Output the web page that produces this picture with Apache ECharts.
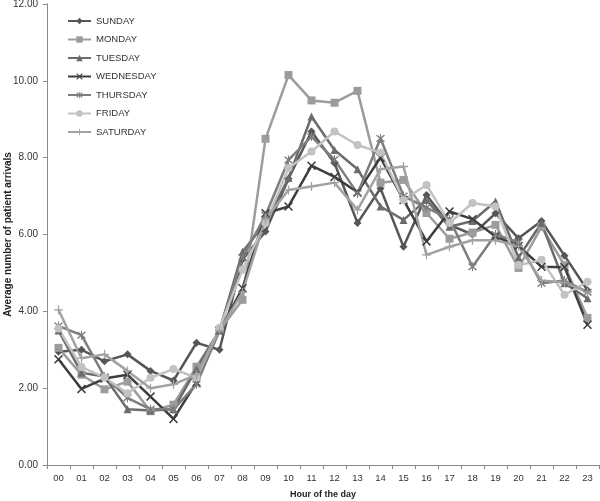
<!DOCTYPE html>
<html><head><meta charset="utf-8">
<script src="https://cdn.jsdelivr.net/npm/echarts@6/dist/echarts.min.js"></script>
<style>html,body{margin:0;padding:0;background:#fff}#c{width:600px;height:501px}</style>
</head><body><div id="c"></div>
<script>
const hours = ['00','01','02','03','04','05','06','07','08','09','10','11','12','13','14','15','16','17','18','19','20','21','22','23'];
const sunday    = [2.95,3.00,2.70,2.88,2.45,2.20,3.18,3.00,5.35,6.08,7.45,8.68,7.86,6.30,7.20,5.68,7.03,6.25,6.00,6.55,5.90,6.35,5.45,4.55];
const monday    = [3.05,2.35,1.97,2.17,1.40,1.57,2.56,3.50,4.30,8.49,10.15,9.49,9.43,9.74,7.35,7.42,6.56,5.89,6.05,6.25,5.13,6.20,5.20,3.83];
const tuesday   = [3.50,2.40,2.30,1.45,1.42,1.45,2.50,3.50,5.55,6.30,7.47,9.07,8.20,7.70,6.73,6.38,6.90,6.20,6.35,6.86,5.40,6.30,4.73,4.34];
const wednesday = [2.75,1.98,2.25,2.35,1.78,1.20,2.15,3.50,4.60,6.55,6.73,7.79,7.50,7.10,8.00,6.90,5.82,6.60,6.40,5.95,5.70,5.16,5.15,3.65];
const thursday  = [3.62,3.38,2.30,1.75,1.45,1.45,2.10,3.50,5.40,6.50,7.94,8.55,7.95,7.07,8.50,7.00,6.70,6.40,5.16,6.00,5.80,4.73,4.80,4.50];
const friday    = [3.55,2.55,2.28,1.87,2.27,2.50,2.27,3.57,5.08,6.30,7.73,8.16,8.68,8.33,8.13,6.90,7.29,6.30,6.82,6.73,5.20,5.34,4.43,4.77];
const saturday  = [4.04,2.78,2.88,2.45,2.00,2.10,2.35,3.50,4.50,6.40,7.16,7.25,7.35,6.64,7.70,7.77,5.47,5.68,5.85,5.85,5.70,4.80,4.75,4.50];
const yTicks = [0,2,4,6,8,10,12];

const X = 'path://M0,1.2 L1.2,0 L5,3.8 L8.8,0 L10,1.2 L6.2,5 L10,8.8 L8.8,10 L5,6.2 L1.2,10 L0,8.8 L3.8,5 Z';
const PLUS = 'path://M4.3,0 H5.7 V4.3 H10 V5.7 H5.7 V10 H4.3 V5.7 H0 V4.3 H4.3 Z';
const AST = 'path://M0,1.2 L1.2,0 L5,3.8 L8.8,0 L10,1.2 L6.2,5 L10,8.8 L8.8,10 L5,6.2 L1.2,10 L0,8.8 L3.8,5 Z M4.4,-1 H5.6 V11 H4.4 Z';

function mk(name, data, color, symbol, size){
  return {name, type:'line', data, symbol, symbolSize:size, showSymbol:true,
    lineStyle:{color, width:2.5}, itemStyle:{color, borderWidth:0}, emphasis:{disabled:true}, animation:false, z:2};
}
const series = [
  mk('SUNDAY', sunday, '#565656', 'diamond', 8),
  mk('MONDAY', monday, '#9c9c9c', 'rect', 8),
  mk('TUESDAY', tuesday, '#6c6c6c', 'triangle', 8),
  mk('WEDNESDAY', wednesday, '#3e3e3e', X, 9),
  mk('THURSDAY', thursday, '#7e7e7e', AST, 9),
  mk('FRIDAY', friday, '#c2c2c2', 'circle', 8),
  mk('SATURDAY', saturday, '#a2a2a2', PLUS, 9)
];
const chart = echarts.init(document.getElementById('c'), null, {renderer:'canvas'});
chart.setOption({
  animation:false,
  backgroundColor:'#fff',
  grid:{left:47, right:1, top:4, bottom:36, containLabel:false, outerBoundsMode:'none'},
  legend:{orient:'vertical', left:62, top:11, itemWidth:23, itemHeight:8, itemGap:8.5,
    textStyle:{fontFamily:'Liberation Sans, Arial', fontSize:9.5, color:'#333'},
    data:series.map(s=>s.name)},
  xAxis:{type:'category', data:hours, boundaryGap:true,
    name:'Hour of the day', nameLocation:'middle', nameGap:25, nameMoveOverlap:false,
    nameTextStyle:{fontFamily:'Liberation Sans, Arial', fontSize:9, fontWeight:'bold', color:'#222'},
    axisLine:{lineStyle:{color:'#8a8a8a', width:1}},
    axisTick:{show:true, alignWithLabel:false, length:4, lineStyle:{color:'#8a8a8a'}},
    axisLabel:{fontFamily:'Liberation Sans, Arial', fontSize:9.5, color:'#333', margin:8, interval:0},
    splitLine:{show:false}},
  yAxis:{type:'value', min:0, max:12, interval:2,
    name:'Average number of patient arrivals', nameLocation:'middle', nameGap:34, nameRotate:90, nameMoveOverlap:false,
    nameTextStyle:{fontFamily:'Liberation Sans, Arial', fontSize:10, fontWeight:'bold', color:'#222'},
    axisLine:{show:true, lineStyle:{color:'#8a8a8a', width:1}},
    axisTick:{show:true, length:4, lineStyle:{color:'#8a8a8a'}},
    axisLabel:{fontFamily:'Liberation Sans, Arial', fontSize:10, color:'#333', margin:9,
      formatter:v=> yTicks.includes(v) ? v.toFixed(2) : ''},
    splitLine:{show:false}},
  series
});
</script></body></html>
